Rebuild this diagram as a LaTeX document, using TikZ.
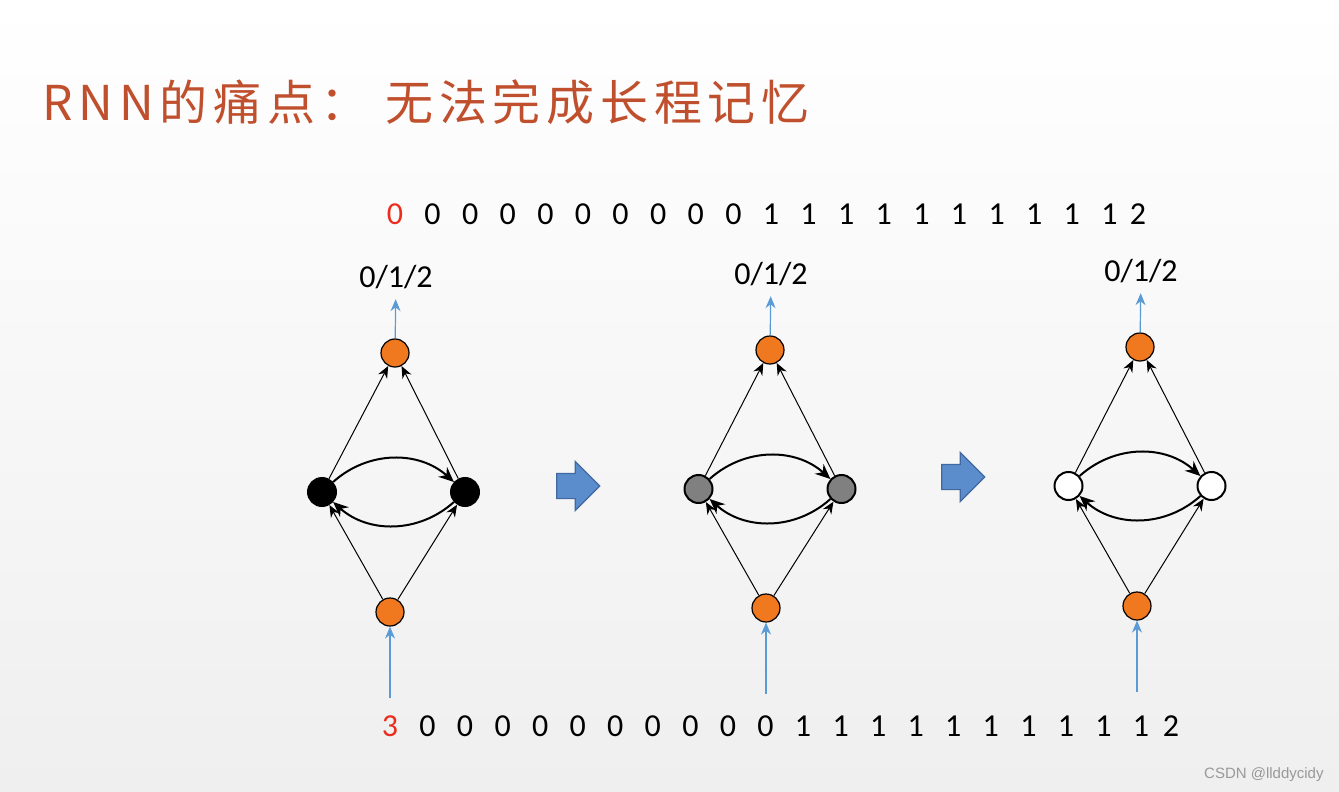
\documentclass[tikz,border=0pt]{standalone}
\usepackage{fontspec}
\setmainfont{Carlito}
\newfontfamily\cjkfont[LetterSpace=12]{Noto Sans CJK SC}
\newfontfamily\markfont{Liberation Sans}
\usepackage{tikz}
\usetikzlibrary{arrows.meta, shapes.arrows}
\definecolor{titlered}{RGB}{192,80,45}
\definecolor{digitred}{RGB}{235,45,30}
\definecolor{nodeorange}{RGB}{240,120,30}
\definecolor{linkblue}{RGB}{91,155,213}
\definecolor{bigblue}{RGB}{91,141,205}
\definecolor{bigblueedge}{RGB}{65,105,160}
\definecolor{bggray}{RGB}{239,239,239}
\tikzset{
  ionode/.style={circle, draw=black, fill=nodeorange, minimum size=14pt,
    inner sep=0pt, line width=0.6pt},
  hidnode/.style={circle, draw=black, minimum size=14pt,
    inner sep=0pt, line width=1pt},
  digit/.style={font=\fontsize{16}{19}\selectfont, inner sep=0pt},
  thinarrow/.style={-{Stealth[length=6pt,width=5pt]}, line width=0.5pt},
  looparrow/.style={-{Stealth[length=7.5pt,width=6.5pt]}, line width=1pt},
  bluearrow/.style={-{Stealth[length=6pt,width=5pt]}, draw=linkblue, line width=0.6pt},
  bigarrow/.style={single arrow, draw=bigblueedge, fill=bigblue, minimum height=21.5pt,
    single arrow head extend=6pt, inner sep=6pt, line width=0.6pt}
}

\begin{document}
\begin{tikzpicture}[x=0.5pt, y=-0.5pt]
  \useasboundingbox (0,0) rectangle (1339,792);
  % background
  \shade[top color=white, bottom color=bggray] (0,0) rectangle (1339,792);

  % title
  \node[anchor=base west, inner sep=0pt, text=titlered, font=\cjkfont\fontsize{24}{28}\selectfont]
    (title) at (42,120) {RNN的痛点： 无法完成长程记忆};

  % output sequence
  \node[digit, text=digitred] (up0) at (395,214) {0};
  \foreach \k in {1,...,9} \node[digit] (up\k) at ({395+37.6*\k},214) {0};
  \foreach \k in {10,...,19} \node[digit] (up\k) at ({395+37.6*\k},214) {1};
  \node[digit] (up20) at (1138,214) {2};

  % input sequence
  \node[digit, text=digitred] (dn0) at (390,726) {3};
  \foreach \k in {1,...,10} \node[digit] (dn\k) at ({390+37.55*\k},726) {0};
  \foreach \k in {11,...,20} \node[digit] (dn\k) at ({390+37.55*\k},726) {1};
  \node[digit] (dn21) at (1171,726) {2};

  % three copies of the network
  \foreach \n/\ox/\oy/\hx/\hy/\ix/\iy/\hcol in {1/395/353/393.5/492/390/612/black,
      2/770/350/770/489/766/608/gray, 3/1140/347/1140/486/1137/606/white} {
    \node[ionode] (out\n) at (\ox,\oy) {};
    \node[hidnode, fill=\hcol] (hl\n) at ({\hx-71.5},\hy) {};
    \node[hidnode, fill=\hcol] (hr\n) at ({\hx+71.5},\hy) {};
    \node[ionode] (in\n) at (\ix,\iy) {};
    \node[digit] (lab\n) at ({\ox+1},{\oy-76}) {0/1/2};
    \coordinate (src\n) at (\ix,{\iy+86});

    \draw[thinarrow] (in\n) -- (hl\n);
    \draw[thinarrow] (in\n) -- (hr\n);
    \draw[thinarrow] (hl\n) -- (out\n);
    \draw[thinarrow] (hr\n) -- (out\n);
    \draw[looparrow] (hl\n) to[bend left=42] (hr\n);
    \draw[looparrow] (hr\n) to[bend left=42] (hl\n);
    \draw[bluearrow, shorten >=5pt] (out\n) -- (lab\n);
    \draw[bluearrow] (src\n) -- (in\n);
  }

  % block arrows between the copies
  \node[bigarrow] (step1) at (572,486) {};
  \node[bigarrow] (step2) at (957,477) {};

  % watermark
  \node[anchor=east, inner sep=0pt, text=gray!80, font=\markfont\fontsize{7.5}{9}\selectfont]
    (mark) at (1324,775) {CSDN @llddycidy};
\end{tikzpicture}
\end{document}
